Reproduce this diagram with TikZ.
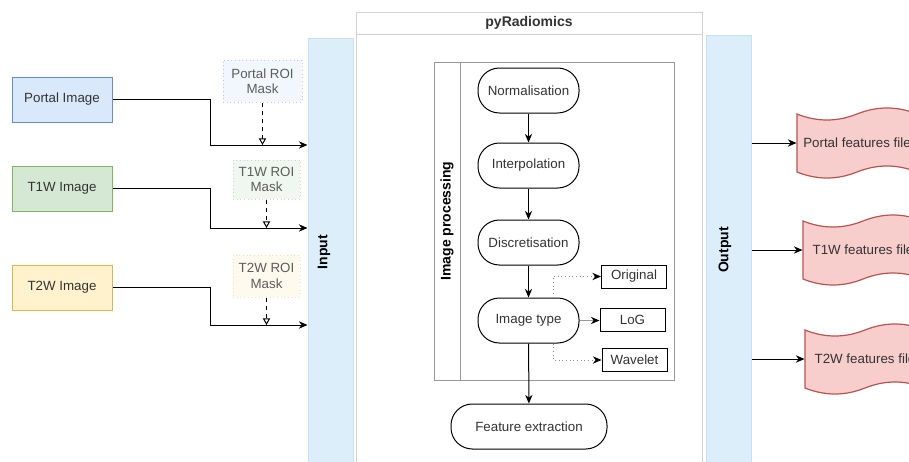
\documentclass[tikz,border=0pt]{standalone}
\usepackage{fontspec}
\setmainfont{Liberation Sans}
\usetikzlibrary{arrows.meta,calc}

\definecolor{bluefill}{HTML}{DAE8FC}
\definecolor{blueline}{HTML}{6C8EBF}
\definecolor{greenfill}{HTML}{D5E8D4}
\definecolor{greenline}{HTML}{82B366}
\definecolor{yellowfill}{HTML}{FFF2CC}
\definecolor{yellowline}{HTML}{D6B656}
\definecolor{barfill}{HTML}{DDEEFB}
\definecolor{barline}{HTML}{C8E0F6}
\definecolor{redfill}{HTML}{F8CECC}
\definecolor{redline}{HTML}{B85450}
\definecolor{txt}{HTML}{333333}

\tikzset{
  tapeshape/.style={draw=redline, fill=redfill, line width=0.9pt},
  tapetext/.style={minimum width=90pt, minimum height=43.5pt, text=txt}
}

% wavy file node: name, centre, text
\newcommand{\featurefile}[3]{%
  \begin{scope}[shift={(#2)}]
    \filldraw[tapeshape] (-60,-29) .. controls (-40,-21) and (-20,-21) .. (0,-29)
      .. controls (20,-37) and (40,-37) .. (60,-29) -- (60,29)
      .. controls (40,21) and (20,21) .. (0,29)
      .. controls (-20,37) and (-40,37) .. (-60,29) -- cycle;
  \end{scope}
  \node[tapetext] (#1) at (#2) {#3};
}

\begin{document}
\begin{tikzpicture}[x=0.75pt, y=-0.75pt, line width=0.75pt,
    font=\fontsize{10}{11.5}\selectfont,
    lanelabel/.style={rotate=90, font=\fontsize{10.5}{12}\selectfont\bfseries},
    imgbox/.style={draw, minimum width=75pt, minimum height=33.75pt, text=txt},
    maskbox/.style={draw, dotted, align=center, text=txt!80, inner sep=2pt},
    bar/.style={draw=barline, fill=barfill, minimum width=33.75pt},
    stepnode/.style={draw, rounded corners=16pt, minimum width=75.75pt, minimum height=33.75pt, text=txt},
    optbox/.style={draw, minimum width=48.75pt, minimum height=17.25pt, inner sep=1pt, text=txt},
    flow/.style={-{Stealth[length=6.5pt,width=5.5pt]}},
    maskflow/.style={dashed, -{Triangle[open,length=5pt,width=5.5pt]}},
    dotlink/.style={draw=black!45, dotted, -{Stealth[length=6.5pt,width=5.5pt,color=black]}}]
    \useasboundingbox (0,0) rectangle (909,461);

    % Containers
    \node[draw=black!18, minimum width=259.5pt, minimum height=343.5pt] (pyrad) at (529,241) {};
    \coordinate (hdr) at (0,34);
    \draw[black!18] (pyrad.west |- hdr) -- (pyrad.east |- hdr);
    \node[font=\fontsize{10.5}{12}\selectfont\bfseries, text=txt] (pyradtitle) at (529,23) {pyRadiomics};

    \node[bar, minimum height=324pt] (inputbar) at (330.5,254) {};
    \node[lanelabel] (inputlabel) at (324,252) {Input};
    \node[bar, minimum height=326.25pt] (outputbar) at (728.5,252.5) {};
    \node[lanelabel] (outputlabel) at (725,250) {Output};

    \node[draw=black!40, minimum width=180pt, minimum height=238.5pt] (pool) at (554,221) {};
    \coordinate (poolsep) at (460,0);
    \draw[black!40] (pool.north -| poolsep) -- (pool.south -| poolsep);
    \node[lanelabel] (poollabel) at (447,221) {Image processing};

    % Images
    \node[imgbox, fill=bluefill, draw=blueline] (portal) at (62,99.5) {Portal Image};
    \node[imgbox, fill=greenfill, draw=greenline] (tone) at (62,188.5) {T1W Image};
    \node[imgbox, fill=yellowfill, draw=yellowline] (ttwo) at (62,287.5) {T2W Image};

    % Masks
    \node[maskbox, fill=bluefill!35, draw=blueline!45, minimum width=59.25pt, minimum height=31.5pt] (pmask) at (262.5,81) {Portal ROI\\Mask};
    \node[maskbox, fill=greenfill!35, draw=greenline!45, minimum width=50.25pt, minimum height=29.25pt] (onemask) at (266.5,179.5) {T1W ROI\\Mask};
    \node[maskbox, fill=yellowfill!35, draw=yellowline!45, minimum width=50.25pt, minimum height=31.5pt] (twomask) at (266.5,276) {T2W ROI\\Mask};

    % Inputs
    \coordinate (pbend) at (210,145);
    \coordinate (onebend) at (210,228);
    \coordinate (twobend) at (210,325);
    \draw[flow] (portal.east) -| (pbend) -- (inputbar.west |- pbend);
    \draw[flow] (tone.east) -| (onebend) -- (inputbar.west |- onebend);
    \draw[flow] (ttwo.east) -| (twobend) -- (inputbar.west |- twobend);
    \draw[maskflow] (pmask.south) -- (pmask.south |- pbend);
    \draw[maskflow] (onemask.south) -- (onemask.south |- onebend);
    \draw[maskflow] (twomask.south) -- (twomask.south |- twobend);

    % Processing steps
    \node[stepnode] (norm) at (528.5,90.5) {Normalisation};
    \node[stepnode] (interp) at (528.5,165.5) {Interpolation};
    \node[stepnode] (discr) at (528.5,242.5) {Discretisation};
    \node[stepnode] (imgtype) at (528.5,320.5) {Image type};
    \node[stepnode, minimum width=117pt] (featx) at (529,426.5) {Feature extraction};

    \node[optbox] (orig) at (634,276.5) {Original};
    \node[optbox] (log) at (632.5,320) {LoG};
    \node[optbox] (wavelet) at (634.5,360) {Wavelet};

    \draw[flow] (norm) -- (interp);
    \draw[flow] (interp) -- (discr);
    \draw[flow] (discr) -- (imgtype);
    \draw[flow] (imgtype) -- (featx);
    \coordinate (tap) at (553,0);
    \draw[dotlink] (imgtype.north -| tap) |- (orig.west);
    \draw[draw=black!40, -{Stealth[length=6.5pt,width=5.5pt,color=black]}] (imgtype.east) -- (log.west |- imgtype.east);
    \draw[dotlink] (imgtype.south -| tap) |- (wavelet.west);

    % Outputs
    \featurefile{pfile}{857,143}{Portal features file}
    \featurefile{onefile}{863,250}{T1W features file}
    \featurefile{twofile}{865,359}{T2W features file}
    \draw[flow] (outputbar.east |- pfile) -- (pfile.west);
    \draw[flow] (outputbar.east |- onefile) -- (onefile.west);
    \draw[flow] (outputbar.east |- twofile) -- (twofile.west);
\end{tikzpicture}
\end{document}
